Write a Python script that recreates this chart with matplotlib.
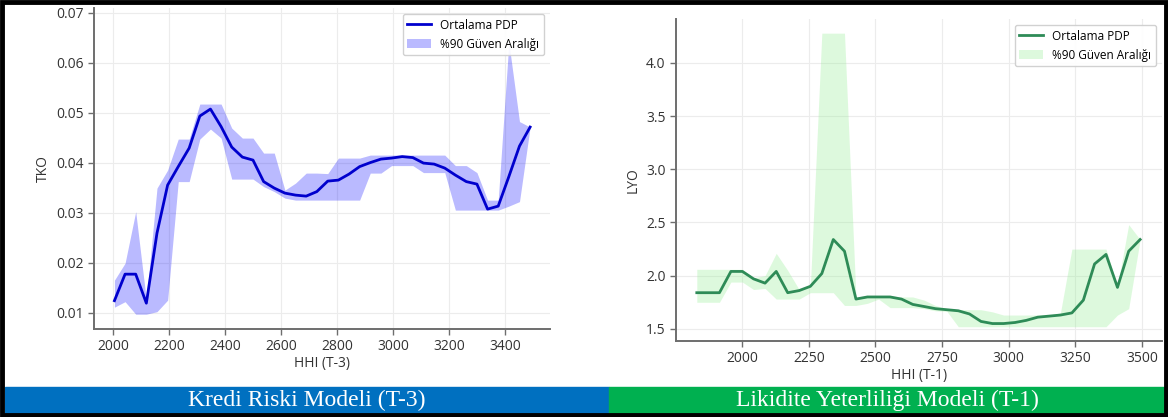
import matplotlib
matplotlib.use("Agg")
import matplotlib.pyplot as plt
from matplotlib.patches import Rectangle

plt.rcParams['font.family'] = ['Open Sans', 'DejaVu Sans']

# --- Kredi Riski Modeli (T-3) ---
hhi_t3 = [2005, 2043, 2081, 2119, 2157, 2195, 2233, 2272, 2310, 2348,
          2386, 2424, 2462, 2500, 2538, 2576, 2614, 2652, 2690, 2728,
          2767, 2805, 2843, 2881, 2919, 2957, 2995, 3033, 3071, 3109,
          3147, 3185, 3223, 3262, 3300, 3338, 3376, 3414, 3452, 3490]
tko_mean = [0.0124, 0.0177, 0.0177, 0.0119, 0.0259, 0.0355, 0.0392, 0.0429, 0.0493, 0.0507,
            0.0472, 0.0431, 0.0411, 0.0405, 0.0362, 0.0349, 0.0339, 0.0335, 0.0333, 0.0342,
            0.0363, 0.0365, 0.0377, 0.0392, 0.0400, 0.0407, 0.0409, 0.0412, 0.0410, 0.0399,
            0.0397, 0.0389, 0.0375, 0.0362, 0.0357, 0.0307, 0.0313, 0.0372, 0.0433, 0.0471]
tko_low = [0.0111, 0.0122, 0.0097, 0.0097, 0.0102, 0.0125, 0.0362, 0.0362, 0.0447, 0.0467,
           0.0449, 0.0367, 0.0367, 0.0367, 0.0352, 0.0342, 0.0329, 0.0325, 0.0325, 0.0325,
           0.0325, 0.0325, 0.0325, 0.0325, 0.0379, 0.0379, 0.0394, 0.0394, 0.0394, 0.0380,
           0.0380, 0.0380, 0.0305, 0.0305, 0.0305, 0.0305, 0.0305, 0.0313, 0.0322, 0.0471]
tko_high = [0.0165, 0.0199, 0.0302, 0.0125, 0.0349, 0.0385, 0.0447, 0.0447, 0.0517, 0.0517,
            0.0517, 0.0469, 0.0449, 0.0449, 0.0419, 0.0419, 0.0345, 0.0359, 0.0379, 0.0379,
            0.0378, 0.0409, 0.0409, 0.0409, 0.0415, 0.0415, 0.0415, 0.0415, 0.0415, 0.0415,
            0.0415, 0.0415, 0.0394, 0.0394, 0.0380, 0.0325, 0.0325, 0.0640, 0.0482, 0.0471]

# --- Likidite Yeterliliği Modeli (T-1) ---
hhi_t1 = [1830, 1873, 1915, 1958, 2001, 2043, 2086, 2128, 2171, 2214,
          2256, 2299, 2342, 2384, 2427, 2470, 2512, 2555, 2598, 2640,
          2683, 2725, 2768, 2811, 2853, 2896, 2939, 2981, 3024, 3066,
          3109, 3152, 3194, 3237, 3280, 3322, 3365, 3408, 3450, 3493]
lyo_mean = [1.84, 1.84, 1.84, 2.04, 2.04, 1.97, 1.93, 2.04, 1.84, 1.86,
            1.90, 2.02, 2.34, 2.23, 1.78, 1.80, 1.80, 1.80, 1.78, 1.73,
            1.71, 1.69, 1.68, 1.67, 1.64, 1.57, 1.55, 1.55, 1.56, 1.58,
            1.61, 1.62, 1.63, 1.65, 1.77, 2.11, 2.20, 1.89, 2.23, 2.34]
lyo_low = [1.75, 1.75, 1.75, 1.94, 1.94, 1.87, 1.88, 1.78, 1.78, 1.78,
           1.84, 1.84, 1.84, 1.72, 1.72, 1.74, 1.78, 1.70, 1.70, 1.70,
           1.69, 1.67, 1.665, 1.52, 1.52, 1.52, 1.52, 1.52, 1.52, 1.52,
           1.52, 1.52, 1.52, 1.52, 1.52, 1.52, 1.52, 1.63, 1.69, 2.34]
lyo_high = [2.06, 2.06, 2.06, 2.06, 2.06, 1.98, 2.00, 2.21, 2.05, 1.87,
            1.90, 4.28, 4.28, 4.28, 1.80, 1.81, 1.81, 1.81, 1.80, 1.80,
            1.77, 1.72, 1.69, 1.68, 1.68, 1.68, 1.66, 1.63, 1.63, 1.63,
            1.63, 1.63, 1.65, 2.25, 2.25, 2.25, 2.25, 1.90, 2.48, 2.34]

W, H = 1168, 417
fig = plt.figure(figsize=(W / 100, H / 100), dpi=100)


def px_axes(x0, y0, x1, y1):
    # pixel box (top-left origin) -> figure fraction axes
    return fig.add_axes([x0 / W, 1 - y1 / H, (x1 - x0) / W, (y1 - y0) / H])


def style(ax):
    for s in ('top', 'right'):
        ax.spines[s].set_visible(False)
    for s in ('left', 'bottom'):
        ax.spines[s].set_color('#6e6e6e')
        ax.spines[s].set_linewidth(1.4)
    ax.grid(True, color='#ececec', linewidth=0.8)
    ax.set_axisbelow(True)
    ax.tick_params(colors='#6e6e6e', labelcolor='#333333', labelsize=10,
                   length=4, width=1)


ax1 = px_axes(94, 8, 550, 329)
band1 = ax1.fill_between(hhi_t3, tko_low, tko_high, color='blue', alpha=0.27,
                         linewidth=0, label='%90 Güven Aralığı')
line1, = ax1.plot(hhi_t3, tko_mean, color='mediumblue', linewidth=2, label='Ortalama PDP')
ax1.set_xlim(1932, 3561)
ax1.set_ylim(0.00674, 0.0709)
ax1.set_xticks([2000, 2200, 2400, 2600, 2800, 3000, 3200, 3400])
ax1.set_yticks([0.01, 0.02, 0.03, 0.04, 0.05, 0.06, 0.07])
ax1.set_xlabel('HHI (T-3)', fontsize=10, color='#333333', labelpad=1)
ax1.set_ylabel('TKO', fontsize=10, color='#333333')
style(ax1)
ax1.legend(handles=[line1, band1], loc='upper right', fontsize=8.5, framealpha=0.9)

ax2 = px_axes(676, 19, 1162, 341)
band2 = ax2.fill_between(hhi_t1, lyo_low, lyo_high, color='lightgreen', alpha=0.3,
                         linewidth=0, label='%90 Güven Aralığı')
line2, = ax2.plot(hhi_t1, lyo_mean, color='seagreen', linewidth=2, label='Ortalama PDP')
ax2.set_xlim(1752, 3575)
ax2.set_ylim(1.386, 4.413)
ax2.set_xticks([2000, 2250, 2500, 2750, 3000, 3250, 3500])
ax2.set_yticks([1.5, 2.0, 2.5, 3.0, 3.5, 4.0])
ax2.set_xlabel('HHI (T-1)', fontsize=10, color='#333333', labelpad=1)
ax2.set_ylabel('LYO', fontsize=10, color='#333333')
style(ax2)
ax2.legend(handles=[line2, band2], loc='upper right', fontsize=8.5, framealpha=0.9)

# caption bars
fig.patches.append(Rectangle((5 / W, 1 - 414 / H), (609 - 5) / W, 27 / H,
                             transform=fig.transFigure, color='#0070C0', zorder=0))
fig.patches.append(Rectangle((609 / W, 1 - 414 / H), (1165 - 609) / W, 27 / H,
                             transform=fig.transFigure, color='#00B050', zorder=0))
fig.text(307 / W, 1 - 400.5 / H, 'Kredi Riski Modeli (T-3)', color='white',
         fontsize=17, family='Liberation Serif', ha='center', va='center')
fig.text(887 / W, 1 - 400.5 / H, 'Likidite Yeterliliği Modeli (T-1)', color='white',
         fontsize=17, family='Liberation Serif', ha='center', va='center')

# outer black frame
fig.patches.append(Rectangle((2 / W, 2 / H), (W - 4) / W, (H - 4) / H,
                             transform=fig.transFigure, fill=False,
                             edgecolor='black', linewidth=3.5, zorder=5))

fig.savefig('out.png', dpi=100)
